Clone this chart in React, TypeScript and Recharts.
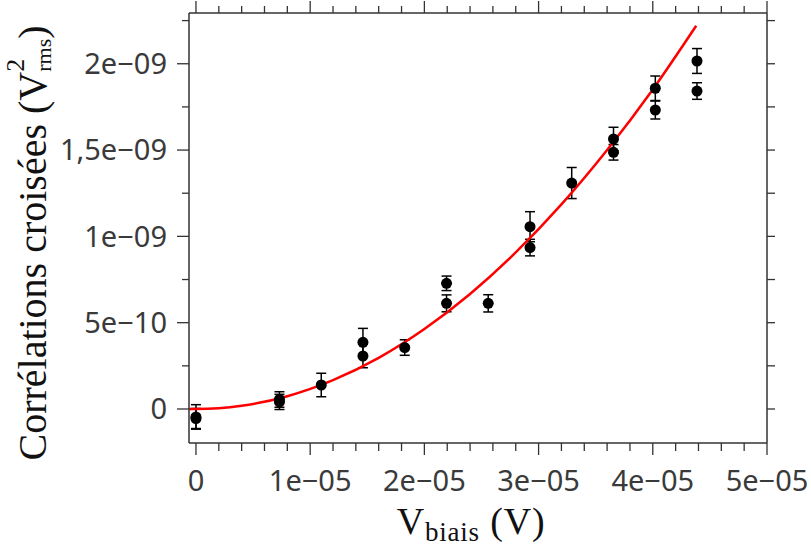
import React from 'react';
import { ComposedChart, Scatter, Line, XAxis, YAxis, ErrorBar } from 'recharts';

// measured points (bias voltage in V, cross-correlation in V^2 rms)
const biasV = [
  0, 0, 7.31e-6, 7.31e-6, 1.097e-5, 1.462e-5, 1.462e-5, 1.828e-5, 2.194e-5, 2.194e-5,
  2.559e-5, 2.925e-5, 2.925e-5, 3.29e-5, 3.656e-5, 3.656e-5, 4.022e-5, 4.022e-5, 4.387e-5, 4.387e-5,
];
const corr = [
  -4.6e-11, -5.5e-11, 5.5e-11, 4.1e-11, 1.39e-10, 3.86e-10, 3.07e-10, 3.56e-10, 7.28e-10, 6.12e-10,
  6.12e-10, 1.056e-9, 9.35e-10, 1.309e-9, 1.564e-9, 1.487e-9, 1.858e-9, 1.732e-9, 2.016e-9, 1.842e-9,
];
const corrErr = [
  7.1e-11, 5.8e-11, 4.5e-11, 4.4e-11, 6.8e-11, 8.1e-11, 6.8e-11, 4.5e-11, 4.2e-11, 4.9e-11,
  5e-11, 8.7e-11, 4.8e-11, 9e-11, 6.8e-11, 4.5e-11, 7.1e-11, 5.2e-11, 7.2e-11, 4.8e-11,
];

// red fit curve
const fitV = [-6e-7, 0, 4e-6, 8e-6, 1.2e-5, 1.6e-5, 2e-5, 2.4e-5, 2.8e-5, 3.2e-5, 3.6e-5, 4e-5, 4.38e-5];
const fitCorr = [0, 0, 1.9e-11, 7.4e-11, 1.67e-10, 2.96e-10, 4.63e-10, 6.66e-10, 9.07e-10, 1.185e-9, 1.5e-9, 1.851e-9, 2.22e-9];

const xTickLabels = ['0', '1e\u221205', '2e\u221205', '3e\u221205', '4e\u221205', '5e\u221205'];
const yTickLabels = ['0', '5e\u221210', '1e\u221209', '1,5e\u221209', '2e\u221209'];

// every 5th x tick and every 2nd y tick is a major one
const xTicks = Array.from({ length: 26 }, (_, i) => i * 2e-6);
const yTicks = Array.from({ length: 10 }, (_, i) => i * 2.5e-10);

const points = biasV.map((x, i) => ({ x, y: corr[i], err: corrErr[i] }));
const fit = fitV.map((x, i) => ({ x, y: fitCorr[i] }));

const xDomain = [-6.1e-7, 5e-5];
const yDomain = [-1.97e-10, 2.294e-9];

const axisColor = '#333';
const labelColor = '#3a3a3a';
const sans = 'Noto Sans';
const serif = "'Liberation Serif', 'Times New Roman', serif";

const Dot = (props: any) => <circle cx={props.cx} cy={props.cy} r={5.5} fill="#000" />;

const BottomTick = ({ x, y, index }: any) => {
  const major = index % 5 === 0;
  return (
    <g>
      <line x1={x} x2={x} y1={y} y2={y + (major ? 12 : 8)} stroke={axisColor} strokeWidth={1.3} />
      {major && (
        <text x={x} y={y + 27} dy="0.71em" textAnchor="middle" fill={labelColor} fontSize={29} fontFamily={sans}>
          {xTickLabels[index / 5]}
        </text>
      )}
    </g>
  );
};

const TopTick = ({ x, y, index }: any) => (
  <line x1={x} x2={x} y1={y} y2={y - (index % 5 === 0 ? 12 : 7)} stroke={axisColor} strokeWidth={1.3} />
);

const LeftTick = ({ x, y, index }: any) => {
  const major = index % 2 === 0;
  return (
    <g>
      <line x1={x} x2={x - (major ? 12 : 7)} y1={y} y2={y} stroke={axisColor} strokeWidth={1.3} />
      {major && (
        <text x={x - 22} y={y} dy="0.355em" textAnchor="end" fill={labelColor} fontSize={29} fontFamily={sans}>
          {yTickLabels[index / 2]}
        </text>
      )}
    </g>
  );
};

const RightTick = ({ x, y }: any) => (
  <line x1={x} x2={x + 8} y1={y} y2={y} stroke={axisColor} strokeWidth={1.3} />
);

const axisLine = { stroke: axisColor, strokeWidth: 1.5 };

export default function App() {
  return (
    <div style={{ position: 'absolute', left: 0, top: 0, background: '#fff' }}>
      <ComposedChart width={811} height={551} margin={{ top: 0, right: 0, bottom: 48, left: 0 }}>
        <XAxis xAxisId="x" type="number" dataKey="x" domain={xDomain} allowDataOverflow ticks={xTicks}
          interval={0} height={60} tickSize={0} tickMargin={0} tickLine={false} axisLine={axisLine} tick={<BottomTick />} />
        <XAxis xAxisId="t" orientation="top" type="number" dataKey="x" domain={xDomain} allowDataOverflow ticks={xTicks}
          interval={0} height={13} tickSize={0} tickMargin={0} tickLine={false} axisLine={axisLine} tick={<TopTick />} />
        <YAxis yAxisId="y" type="number" dataKey="y" domain={yDomain} allowDataOverflow ticks={yTicks}
          interval={0} width={189} tickSize={0} tickMargin={0} tickLine={false} axisLine={axisLine} tick={<LeftTick />} />
        <YAxis yAxisId="r" orientation="right" type="number" dataKey="y" domain={yDomain} allowDataOverflow ticks={yTicks}
          interval={0} width={44} tickSize={0} tickMargin={0} tickLine={false} axisLine={axisLine} tick={<RightTick />} />

        <Scatter xAxisId="x" yAxisId="y" data={points} dataKey="y" shape={Dot} isAnimationActive={false}>
          <ErrorBar dataKey="err" direction="y" width={5} stroke="#000" strokeWidth={1.5} isAnimationActive={false} />
        </Scatter>
        <Line xAxisId="x" yAxisId="y" data={fit} dataKey="y" type="monotone" stroke="#ff0000" strokeWidth={2.5}
          dot={false} activeDot={false} isAnimationActive={false} />

        <text x={471} y={534} textAnchor="middle" fontFamily={serif} fontSize={38} letterSpacing={0.8} fill="#111">
          V<tspan fontSize={27} dy={7}>biais</tspan><tspan dy={-7}>{'\u00a0(V)'}</tspan>
        </text>
        <text transform="translate(46, 243) rotate(-90)" textAnchor="middle" fontFamily={serif} fontSize={40} fill="#111">
          {'Corrélations croisées (V'}
          <tspan fontSize={26} dy={-22}>2</tspan>
          <tspan fontSize={22} dx={-13} dy={27}>rms</tspan>
          <tspan dy={-5}>)</tspan>
        </text>
      </ComposedChart>
    </div>
  );
}
